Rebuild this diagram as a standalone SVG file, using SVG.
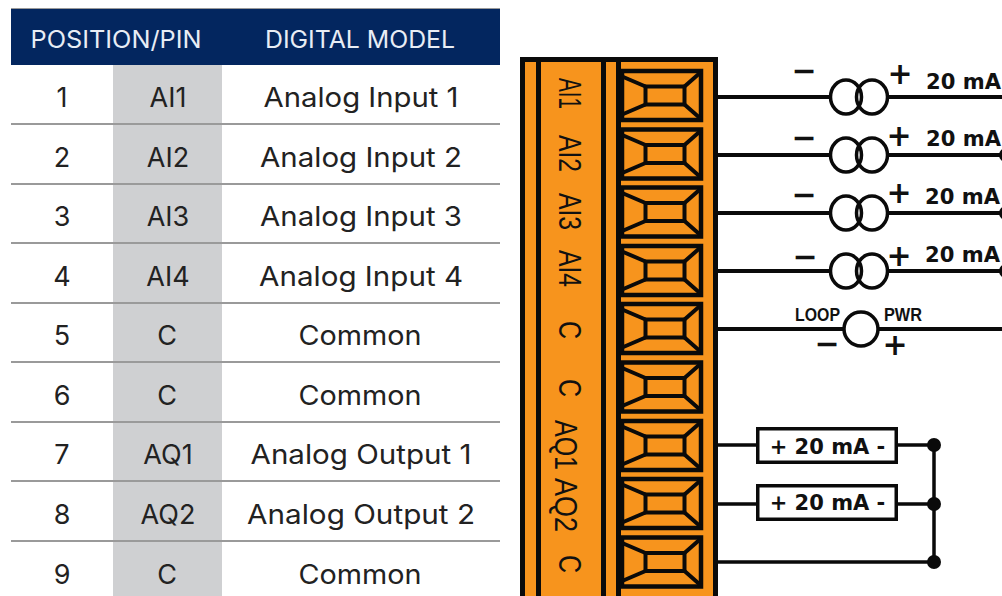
<svg xmlns="http://www.w3.org/2000/svg" width="1002" height="596" viewBox="0 0 1002 596">
<style>
.t{font-family:"Inter","Noto Sans","Liberation Sans",sans-serif;font-size:27px;fill:#222;text-anchor:middle;font-weight:400}
.h{font-family:"Inter","Noto Sans","Liberation Sans",sans-serif;font-size:24px;fill:#e8edf5;text-anchor:middle;font-weight:400}
.rule{stroke:#9a9a9a;stroke-width:2;fill:none}
.w{stroke:#0a0a0a;stroke-width:4;fill:none}
.th{stroke:#0a0a0a;stroke-width:3.5;fill:none}
.pin{font-family:"Liberation Sans",Arial,sans-serif;font-size:32px;fill:#111}
.ma{font-family:"DejaVu Sans",sans-serif;font-weight:700;font-size:21px;fill:#111}
.sym{font-family:"DejaVu Sans",sans-serif;font-weight:700;font-size:30px;fill:#111;text-anchor:middle}
.lp{font-family:"Liberation Sans",sans-serif;font-weight:700;font-size:18px;fill:#111}
</style>
<defs>
<g id="term">
<rect x="622" y="4" width="79" height="49" fill="#f7941d" stroke="#0a0a0a" stroke-width="4.500"/>
<rect x="645.500" y="19.500" width="39" height="18" fill="#f7941d" stroke="#0a0a0a" stroke-width="4"/>
<path d="M621 9L645.500 19.500M701 5L684.500 19.500M621 48L645.500 37.500M701 52L684.500 37.500" fill="none" stroke="#0a0a0a" stroke-width="4"/>
</g>
<g id="src">
<ellipse cx="846" cy="0" rx="15.500" ry="17" class="th"/>
<ellipse cx="872" cy="0" rx="15.500" ry="17" class="th"/>
</g>
</defs>

<g id="table">
<rect x="11" y="8" width="489" height="1" fill="#9a9a9a"/>
<rect x="11" y="9" width="489" height="56" fill="#03265f"/>
<rect x="113" y="65" width="109" height="531" fill="#cfd0d2"/>
<text class="h" x="116" y="48" textLength="171" lengthAdjust="spacingAndGlyphs">POSITION/PIN</text>
<text class="h" x="360" y="48" textLength="190" lengthAdjust="spacingAndGlyphs">DIGITAL MODEL</text>
<path class="rule" d="M11 124H500M11 184H500M11 243H500M11 303H500M11 362H500M11 422H500M11 481H500M11 541H500"/>
<g id="row1"><text class="t" x="62" y="107">1</text><text class="t" x="168" y="107">AI1</text><text class="t" x="361" y="107" textLength="195" lengthAdjust="spacingAndGlyphs">Analog Input 1</text></g>
<g id="row2"><text class="t" x="62" y="167">2</text><text class="t" x="168" y="167">AI2</text><text class="t" x="361" y="167" textLength="202" lengthAdjust="spacingAndGlyphs">Analog Input 2</text></g>
<g id="row3"><text class="t" x="62" y="226">3</text><text class="t" x="168" y="226">AI3</text><text class="t" x="361" y="226" textLength="202" lengthAdjust="spacingAndGlyphs">Analog Input 3</text></g>
<g id="row4"><text class="t" x="62" y="286">4</text><text class="t" x="168" y="286">AI4</text><text class="t" x="361" y="286" textLength="204" lengthAdjust="spacingAndGlyphs">Analog Input 4</text></g>
<g id="row5"><text class="t" x="62" y="345">5</text><text class="t" x="167" y="345">C</text><text class="t" x="360" y="345" textLength="123" lengthAdjust="spacingAndGlyphs">Common</text></g>
<g id="row6"><text class="t" x="62" y="405">6</text><text class="t" x="167" y="405">C</text><text class="t" x="360" y="405" textLength="123" lengthAdjust="spacingAndGlyphs">Common</text></g>
<g id="row7"><text class="t" x="62" y="464">7</text><text class="t" x="168" y="464">AQ1</text><text class="t" x="361" y="464" textLength="221" lengthAdjust="spacingAndGlyphs">Analog Output 1</text></g>
<g id="row8"><text class="t" x="62" y="524">8</text><text class="t" x="168" y="524">AQ2</text><text class="t" x="361" y="524" textLength="228" lengthAdjust="spacingAndGlyphs">Analog Output 2</text></g>
<g id="row9"><text class="t" x="62" y="584">9</text><text class="t" x="167" y="584">C</text><text class="t" x="360" y="584" textLength="123" lengthAdjust="spacingAndGlyphs">Common</text></g>
</g>

<g id="connectors">
<path class="w" d="M716 97H830M888 97H1002M716 155H830M888 155H1002M716 213H830M888 213H1002M716 271H830M888 271H1002M716 329H844M878 329H1002"/>
<path class="w" d="M716 445H757M898 445H934M716 504H757M898 504H934M716 562H934M934 445V562" style="stroke-width:3.5"/>
</g>

<g id="terminal-block">
<rect x="522.500" y="59.500" width="193" height="541" fill="#f7941d" stroke="#0a0a0a" stroke-width="5"/>
<path d="M538.500 60V596M603.500 60V596M618.500 60V596" fill="none" stroke="#0a0a0a" stroke-width="5"/>
<use href="#term" y="67"/><use href="#term" y="125.500"/><use href="#term" y="183.500"/><use href="#term" y="242"/><use href="#term" y="300"/><use href="#term" y="358.500"/><use href="#term" y="417"/><use href="#term" y="475"/><use href="#term" y="533.500"/>
<text class="pin" transform="translate(558.500 78) rotate(90)" textLength="31" lengthAdjust="spacingAndGlyphs">AI1</text>
<text class="pin" transform="translate(558.500 135) rotate(90)" textLength="37" lengthAdjust="spacingAndGlyphs">AI2</text>
<text class="pin" transform="translate(558.500 193) rotate(90)" textLength="37" lengthAdjust="spacingAndGlyphs">AI3</text>
<text class="pin" transform="translate(558.500 250) rotate(90)" textLength="37" lengthAdjust="spacingAndGlyphs">AI4</text>
<text class="pin" transform="translate(558.500 321) rotate(90)" textLength="18" lengthAdjust="spacingAndGlyphs">C</text>
<text class="pin" transform="translate(558.500 379) rotate(90)" textLength="18" lengthAdjust="spacingAndGlyphs">C</text>
<text class="pin" transform="translate(555 420) rotate(90)" textLength="50" lengthAdjust="spacingAndGlyphs">AQ1</text>
<text class="pin" transform="translate(555 478) rotate(90)" textLength="54" lengthAdjust="spacingAndGlyphs">AQ2</text>
<text class="pin" transform="translate(558.500 555) rotate(90)" textLength="18" lengthAdjust="spacingAndGlyphs">C</text>
</g>

<g id="source-1"><use href="#src" y="97"/><text class="sym" x="804" y="81">−</text><text class="sym" x="900" y="84">+</text><text class="ma" x="926" y="89" textLength="75" lengthAdjust="spacingAndGlyphs">20 mA</text></g>
<g id="source-2"><use href="#src" y="155"/><text class="sym" x="804" y="148">−</text><text class="sym" x="899" y="146">+</text><text class="ma" x="926" y="146" textLength="75" lengthAdjust="spacingAndGlyphs">20 mA</text></g>
<g id="source-3"><use href="#src" y="213"/><text class="sym" x="804" y="205">−</text><text class="sym" x="899" y="203">+</text><text class="ma" x="925" y="204" textLength="75" lengthAdjust="spacingAndGlyphs">20 mA</text></g>
<g id="source-4"><use href="#src" y="271"/><text class="sym" x="805" y="267">−</text><text class="sym" x="899" y="266">+</text><text class="ma" x="925" y="262" textLength="75" lengthAdjust="spacingAndGlyphs">20 mA</text></g>
<g id="loop-power"><circle cx="861" cy="329" r="17" class="th"/><text class="lp" x="795" y="321" textLength="45" lengthAdjust="spacingAndGlyphs">LOOP</text><text class="lp" x="884" y="321" textLength="38" lengthAdjust="spacingAndGlyphs">PWR</text><text class="sym" x="827" y="354">−</text><text class="sym" x="895" y="355">+</text></g>

<g id="load-1"><rect x="757.750" y="428.750" width="138.500" height="33.500" fill="#fff" stroke="#0a0a0a" stroke-width="3.500"/><text class="ma" x="827.500" y="454" text-anchor="middle" xml:space="preserve">+ 20 mA -</text></g>
<g id="load-2"><rect x="757.750" y="485.750" width="138.500" height="33.500" fill="#fff" stroke="#0a0a0a" stroke-width="3.500"/><text class="ma" x="827.500" y="510" text-anchor="middle" xml:space="preserve">+ 20 mA -</text></g>

<g id="junctions" fill="#0a0a0a">
<circle cx="934" cy="445" r="7"/><circle cx="934" cy="504" r="7"/><circle cx="934" cy="562" r="7"/>
<circle cx="1006" cy="155" r="7"/><circle cx="1006" cy="213" r="7"/><circle cx="1006" cy="271" r="7"/>
</g>
</svg>
